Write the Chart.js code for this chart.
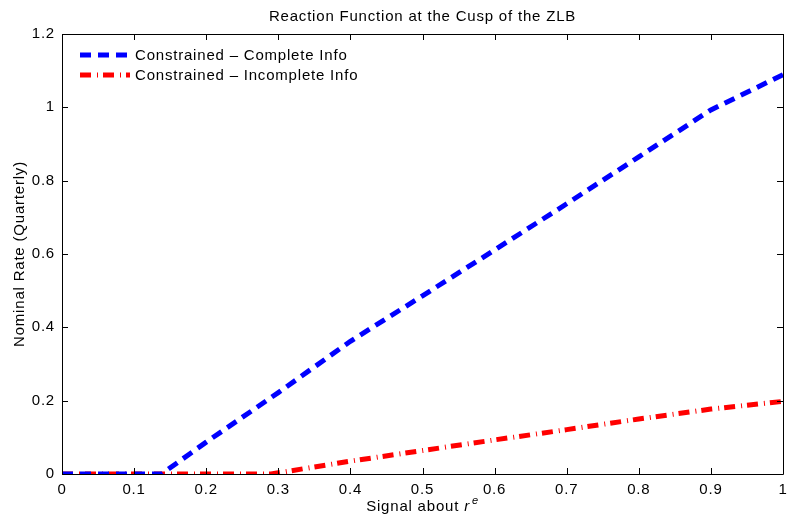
<!DOCTYPE html>
<html>
<head>
<meta charset="utf-8">
<script src="https://cdn.jsdelivr.net/npm/chart.js@4/dist/chart.umd.min.js"></script>
<style>
  html, body { margin: 0; padding: 0; background: #fff; }
  #wrap { width: 789px; height: 524px; }
</style>
</head>
<body>
<div id="wrap"><canvas id="myChart" width="789" height="524"></canvas></div>
<script>
// signal grid and the two reaction functions
var completeX = [0, 0.1, 0.138, 0.2, 0.3, 0.4, 0.5, 0.6, 0.7, 0.8, 0.9, 1.0];
var completeY = [0, 0, 0, 0.087, 0.222, 0.362, 0.486, 0.611, 0.737, 0.865, 0.993, 1.089];
var incompleteX = [0, 0.1, 0.2, 0.29, 0.4, 0.5, 0.6, 0.7, 0.8, 0.9, 1.0];
var incompleteY = [0, 0, 0, 0, 0.035, 0.064, 0.093, 0.121, 0.150, 0.177, 0.198];
var seriesNames = ['Constrained \u2013 Complete Info', 'Constrained \u2013 Incomplete Info'];
var xTicks = [0, 0.1, 0.2, 0.3, 0.4, 0.5, 0.6, 0.7, 0.8, 0.9, 1];
var yTicks = [0, 0.2, 0.4, 0.6, 0.8, 1, 1.2];

var FONT = '"Liberation Sans", Arial, Helvetica, sans-serif';
var SPACING = '0.8px';

function toPoints(xs, ys) {
    return xs.map((x, i) => ({ x: x, y: ys[i] }));
}

function tickText(v) {
    return String(Math.round(v * 10) / 10);
}

var dataChart = {
    datasets: [
        {
            label: seriesNames[0],
            data: toPoints(completeX, completeY),
            borderColor: '#0000ff',
            borderWidth: 5,
            borderDash: [11, 7],
            borderCapStyle: 'butt',
            pointRadius: 0,
            tension: 0,
            fill: false
        },
        {
            label: seriesNames[1],
            data: toPoints(incompleteX, incompleteY),
            borderColor: '#ff0000',
            borderWidth: 5,
            borderDash: [11, 6, 1, 5],
            borderCapStyle: 'butt',
            pointRadius: 0,
            tension: 0,
            fill: false
        }
    ]
};

// box, inward ticks, titles and legend drawn the MATLAB way
var matlabFrame = {
    id: 'matlabFrame',
    beforeInit(chart) {
        chart.ctx.letterSpacing = SPACING;
    },
    beforeDraw(chart) {
        chart.ctx.letterSpacing = SPACING;
    },
    afterDraw(chart) {
        var ctx = chart.ctx;
        var a = chart.chartArea;
        var xs = chart.scales.x, ys = chart.scales.y;
        ctx.save();
        ctx.letterSpacing = SPACING;
        ctx.strokeStyle = '#000';
        ctx.lineWidth = 1;
        ctx.beginPath();
        ctx.rect(Math.round(a.left) + 0.5, Math.round(a.top) + 0.5,
                 Math.round(a.right - a.left), Math.round(a.bottom - a.top));
        ctx.stroke();

        var len = 6;
        ctx.beginPath();
        xTicks.forEach(v => {
            var px = Math.round(xs.getPixelForValue(v)) + 0.5;
            ctx.moveTo(px, a.bottom); ctx.lineTo(px, a.bottom - len);
            ctx.moveTo(px, a.top); ctx.lineTo(px, a.top + len);
        });
        yTicks.forEach(v => {
            var py = Math.round(ys.getPixelForValue(v)) + 0.5;
            ctx.moveTo(a.left, py); ctx.lineTo(a.left + len, py);
            ctx.moveTo(a.right, py); ctx.lineTo(a.right - len, py);
        });
        ctx.stroke();

        // title
        var cx = (a.left + a.right) / 2;
        ctx.fillStyle = '#000';
        ctx.textAlign = 'center';
        ctx.textBaseline = 'alphabetic';
        ctx.font = '15px ' + FONT;
        ctx.fillText('Reaction Function at the Cusp of the ZLB', cx, 21);

        // x axis title: Signal about r^e
        var base = 'Signal about ';
        ctx.font = '15px ' + FONT;
        var w1 = ctx.measureText(base).width;
        ctx.font = 'italic 15px ' + FONT;
        var w2 = ctx.measureText('r').width + 2;
        ctx.font = 'italic 11px ' + FONT;
        var w3 = ctx.measureText('e').width;
        var sx = cx - (w1 + w2 + w3) / 2;
        ctx.textAlign = 'left';
        ctx.font = '15px ' + FONT;
        ctx.fillText(base, sx, 511);
        ctx.font = 'italic 15px ' + FONT;
        ctx.fillText('r', sx + w1, 511);
        ctx.font = 'italic 11px ' + FONT;
        ctx.fillText('e', sx + w1 + w2, 504);

        // y axis title
        ctx.save();
        ctx.translate(24, (a.top + a.bottom) / 2);
        ctx.rotate(-Math.PI / 2);
        ctx.textAlign = 'center';
        ctx.font = '15px ' + FONT;
        ctx.fillText('Nominal Rate (Quarterly)', 0, 0);
        ctx.restore();

        // legend inside the axes, top-left
        ctx.font = '15px ' + FONT;
        ctx.textBaseline = 'middle';
        chart.data.datasets.forEach((ds, i) => {
            var ly = 55 + i * 20;
            ctx.save();
            ctx.strokeStyle = ds.borderColor;
            ctx.lineWidth = ds.borderWidth;
            ctx.setLineDash(ds.borderDash);
            ctx.beginPath();
            ctx.moveTo(80, ly);
            ctx.lineTo(130, ly);
            ctx.stroke();
            ctx.restore();
            ctx.fillStyle = '#000';
            ctx.fillText(ds.label, 135, ly + 1);
        });
        ctx.restore();
    }
};

var config = {
    type: 'line',
    data: dataChart,
    options: {
        responsive: false,
        animation: false,
        layout: { padding: { top: 34, right: 6, left: 0, bottom: 0 } },
        plugins: {
            legend: { display: false },
            tooltip: { enabled: false }
        },
        scales: {
            x: {
                type: 'linear',
                min: 0,
                max: 1,
                afterFit: s => { s.height = 50; s.paddingLeft = 0; s.paddingRight = 0; },
                afterBuildTicks: s => { s.ticks = xTicks.map(v => ({ value: v })); },
                grid: { display: false, drawTicks: false },
                border: { display: false },
                ticks: {
                    color: '#000', padding: 7, maxRotation: 0, autoSkip: false,
                    font: { family: FONT, size: 15 },
                    callback: tickText
                }
            },
            y: {
                type: 'linear',
                min: 0,
                max: 1.2,
                afterFit: s => { s.width = 62; s.paddingTop = 0; s.paddingBottom = 0; },
                afterBuildTicks: s => { s.ticks = yTicks.map(v => ({ value: v })); },
                grid: { display: false, drawTicks: false },
                border: { display: false },
                ticks: {
                    color: '#000', padding: 7, autoSkip: false,
                    font: { family: FONT, size: 15 },
                    callback: tickText
                }
            }
        }
    },
    plugins: [matlabFrame]
};

var ctx = document.getElementById('myChart').getContext('2d');
var myChart = new Chart(ctx, config);
</script>
</body>
</html>
